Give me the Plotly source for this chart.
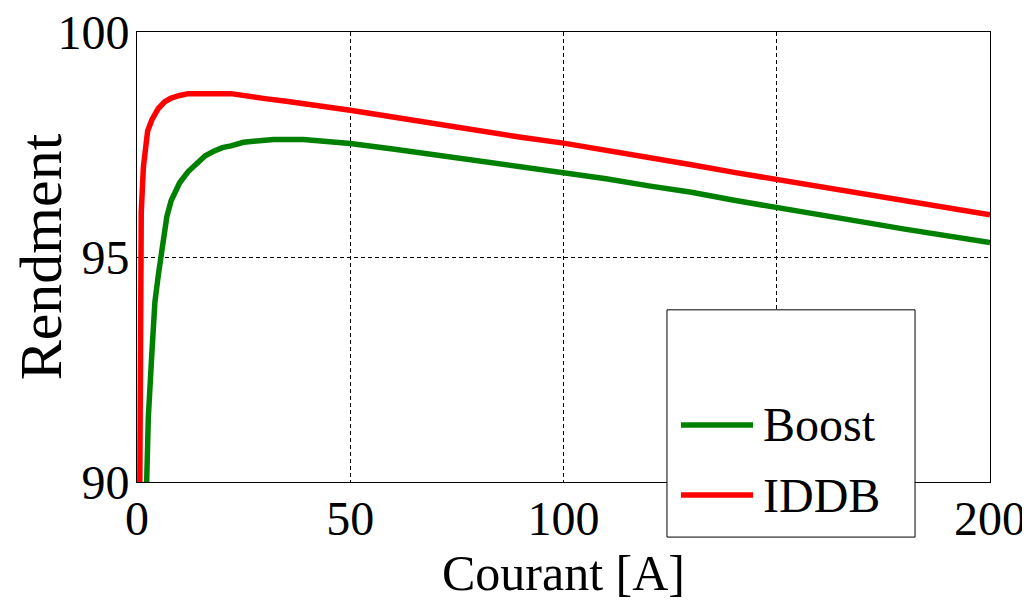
import plotly.graph_objects as go

# ---- data ----
iddb_current = [0.55, 0.7, 0.85, 1.0, 1.5, 2.0, 2.5, 3.5, 5.0, 6.5, 8.0, 10.0, 12.0, 22.0, 25.0, 30.0,
                35.0, 40.0, 45.0, 50.0, 60.0, 70.0, 80.0, 90.0, 100.0, 110.0, 120.0, 130.0, 140.0,
                150.0, 160.0, 170.0, 180.0, 190.0, 200.0]
iddb_eff = [88.0, 90.0, 95.0, 96.0, 97.0, 97.5, 97.8, 98.05, 98.3, 98.45, 98.53, 98.59, 98.63, 98.63,
            98.60, 98.52, 98.46, 98.40, 98.32, 98.26, 98.11, 97.95, 97.80, 97.66, 97.53, 97.38, 97.22,
            97.05, 96.88, 96.72, 96.57, 96.41, 96.26, 96.10, 95.94]

boost_current = [2.0, 2.27, 2.66, 3.45, 4.2, 5.0, 6.0, 7.0, 8.0, 10.0, 12.0, 14.0, 16.0, 18.0, 20.0,
                 22.0, 25.0, 28.0, 32.0, 39.0, 45.0, 50.0, 60.0, 70.0, 80.0, 90.0, 100.0, 110.0,
                 120.0, 130.0, 140.0, 150.0, 160.0, 170.0, 180.0, 190.0, 200.0]
boost_eff = [89.0, 90.0, 91.45, 92.8, 94.0, 94.6, 95.3, 95.9, 96.25, 96.65, 96.9, 97.09, 97.25, 97.35,
             97.43, 97.47, 97.55, 97.58, 97.61, 97.61, 97.57, 97.52, 97.40, 97.27, 97.14, 97.01, 96.88,
             96.74, 96.58, 96.44, 96.26, 96.09, 95.93, 95.78, 95.62, 95.47, 95.32]

x_ticks = [0, 50, 100, 150, 200]
y_ticks = [90, 95, 100]
series_names = ["Boost", "IDDB"]
series_colors = ["#008000", "#ff0000"]

FONT = "Liberation Serif"

fig = go.Figure()
fig.add_trace(go.Scatter(x=boost_current, y=boost_eff, mode="lines", name=series_names[0],
                         line=dict(color=series_colors[0], width=5.5), showlegend=False))
fig.add_trace(go.Scatter(x=iddb_current, y=iddb_eff, mode="lines", name=series_names[1],
                         line=dict(color=series_colors[1], width=5.5), showlegend=False))

axis_common = dict(showline=True, mirror=True, linecolor="black", linewidth=1,
                   showgrid=True, gridcolor="black", gridwidth=1, griddash="4px,3px",
                   zeroline=False, ticks="", automargin=False, ticklabeloverflow="allow",
                   tickfont=dict(family=FONT, size=48, color="black"))

fig.update_xaxes(range=[0, 200], tickvals=x_ticks, ticktext=[str(v) for v in x_ticks],
                 ticklabelstandoff=-6,
                 title=dict(text="Courant [A]", font=dict(family=FONT, size=50, color="black"), standoff=0),
                 **axis_common)
fig.update_yaxes(range=[90, 100], tickvals=y_ticks, ticktext=[str(v) for v in y_ticks],
                 ticklabelstandoff=-3,
                 title=dict(text="Rendment", font=dict(family=FONT, size=60, color="black"), standoff=4),
                 **axis_common)

# legend box (drawn manually, MATLAB style)
shapes = [dict(type="rect", xref="paper", yref="paper", x0=0.6213, x1=0.9121, y0=-0.1224, y1=0.3826,
               line=dict(color="black", width=1), fillcolor="white", layer="above")]
legend_rows_y = [0.1268, -0.0289]
annotations = []
for name, color, yy in zip(series_names, series_colors, legend_rows_y):
    shapes.append(dict(type="line", xref="paper", yref="paper", x0=0.6377, x1=0.7222, y0=yy, y1=yy,
                       line=dict(color=color, width=5.5), layer="above"))
    annotations.append(dict(text=name, xref="paper", yref="paper", x=0.7315, y=yy, xanchor="left",
                            yanchor="middle", showarrow=False,
                            font=dict(family=FONT, size=48, color="black")))

# the page body adds an 8px margin, so the figure is sized/offset to compensate
fig.update_layout(width=1022, height=595, margin=dict(l=129, r=40, t=24, b=121, autoexpand=False),
                  paper_bgcolor="white", plot_bgcolor="white", showlegend=False,
                  shapes=shapes, annotations=annotations,
                  font=dict(family=FONT, color="black"))

fig.write_html("out.html")
